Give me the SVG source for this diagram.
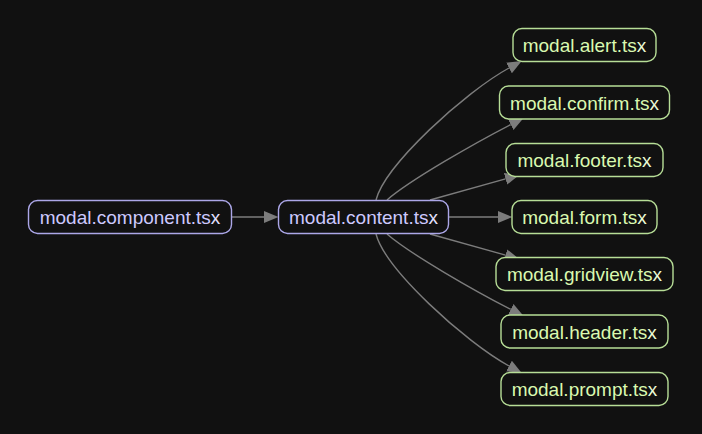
<svg xmlns="http://www.w3.org/2000/svg" width="702" height="434" viewBox="0 0 702 434">
<style>
.bg{fill:#111111}
.n rect{fill:#111111;stroke-width:1.4}
.src rect{stroke:#aca7e8}
.dst rect{stroke:#b7de97}
.n text{font-family:"Liberation Sans",Arial,sans-serif;font-size:19px;text-anchor:middle}
.src text{fill:#cdc9ff}
.dst text{fill:#daf9b0}
.src text tspan{fill:#e2e0ff}
.dst text tspan{fill:#ebfbd6}
.e path{fill:none;stroke:#7c7c7c;stroke-width:1.4;marker-end:url(#ah)}
</style>
<defs>
<marker id="ah" markerUnits="userSpaceOnUse" markerWidth="15" markerHeight="13" refX="0" refY="6.5" orient="auto" viewBox="0 0 15 13">
<path d="M0,0.5 L14.5,6.5 L0,12.5 z" fill="#7c7c7c"/>
</marker>
</defs>
<rect class="bg" x="0" y="0" width="702" height="434"/>
<g id="edges" class="e">
<path d="M231.7,217 L264,217"/>
<path d="M376,200 C385,165 465,92 509,68"/>
<path d="M387,200 C410,180 475,143 510.7,124.6"/>
<path d="M430,200 C455,193 480,186 505.5,178.8"/>
<path d="M449,217 L498,217"/>
<path d="M430,234 C455,241 480,248 505.5,255.2"/>
<path d="M387,234 C410,254 475,291 510.7,309.4"/>
<path d="M376,234 C385,269 465,342 509,366"/>
</g>
<g id="modal.component" class="n src">
<rect x="28.5" y="200.5" width="203" height="33" rx="9"/>
<text x="130" y="224">modal.component.ts<tspan>x</tspan></text>
</g>
<g id="modal.content" class="n src">
<rect x="278.5" y="200.5" width="170" height="33" rx="9"/>
<text x="363.5" y="224">modal.content.ts<tspan>x</tspan></text>
</g>
<g id="modal.alert" class="n dst">
<rect x="513" y="28.5" width="143" height="33" rx="9"/>
<text x="584.5" y="52">modal.alert.ts<tspan>x</tspan></text>
</g>
<g id="modal.confirm" class="n dst">
<rect x="499.5" y="86" width="170" height="33" rx="9"/>
<text x="584.5" y="109.5">modal.confirm.ts<tspan>x</tspan></text>
</g>
<g id="modal.footer" class="n dst">
<rect x="506" y="143.5" width="157" height="33" rx="9"/>
<text x="584.5" y="167">modal.footer.ts<tspan>x</tspan></text>
</g>
<g id="modal.form" class="n dst">
<rect x="512" y="200.5" width="145" height="33" rx="9"/>
<text x="584.5" y="224">modal.form.ts<tspan>x</tspan></text>
</g>
<g id="modal.gridview" class="n dst">
<rect x="496" y="257.5" width="177" height="33" rx="9"/>
<text x="584.5" y="281">modal.gridview.ts<tspan>x</tspan></text>
</g>
<g id="modal.header" class="n dst">
<rect x="501" y="315" width="167" height="33" rx="9"/>
<text x="584.5" y="338.5">modal.header.ts<tspan>x</tspan></text>
</g>
<g id="modal.prompt" class="n dst">
<rect x="501" y="372.5" width="167" height="33" rx="9"/>
<text x="584.5" y="396">modal.prompt.ts<tspan>x</tspan></text>
</g>
</svg>
